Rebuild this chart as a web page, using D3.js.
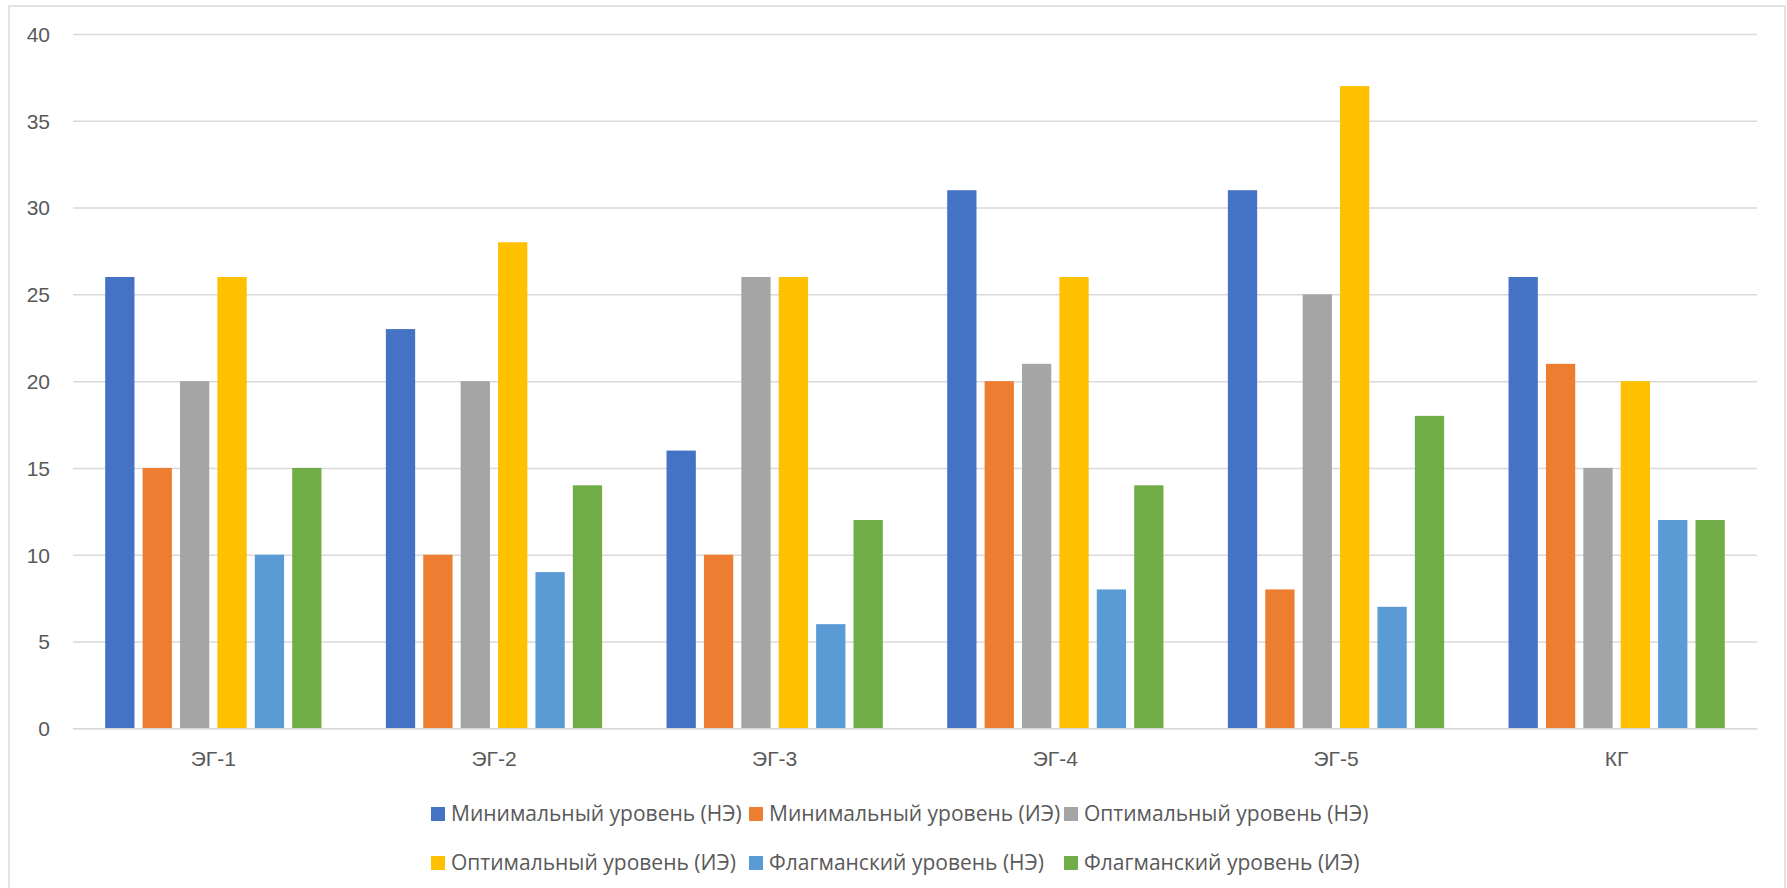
<!DOCTYPE html>
<html>
<head>
<meta charset="utf-8">
<script src="https://cdn.jsdelivr.net/npm/d3@7"></script>
<style>
  html, body { margin: 0; padding: 0; background: #fff; }
  svg { display: block; font-family: "Open Sans", "Noto Sans", sans-serif; }
</style>
</head>
<body>
<svg id="chart" width="1787" height="888"></svg>
<script>
// Groups along the x axis
const categories = ["ЭГ-1", "ЭГ-2", "ЭГ-3", "ЭГ-4", "ЭГ-5", "КГ"];

// Series names (legend order)
const seriesNames = [
  "Минимальный уровень (НЭ)",
  "Минимальный уровень (ИЭ)",
  "Оптимальный уровень (НЭ)",
  "Оптимальный уровень (ИЭ)",
  "Флагманский уровень (НЭ)",
  "Флагманский уровень (ИЭ)"
];

// Values per series, one entry per category
const minNE  = [26, 23, 16, 31, 31, 26];
const minIE  = [15, 10, 10, 20, 8, 21];
const optNE  = [20, 20, 26, 21, 25, 15];
const optIE  = [26, 28, 26, 26, 37, 20];
const flagNE = [10, 9, 6, 8, 7, 12];
const flagIE = [15, 14, 12, 14, 18, 12];

const yTicks = [0, 5, 10, 15, 20, 25, 30, 35, 40];

const seriesValues = [minNE, minIE, optNE, optIE, flagNE, flagIE];
const colors = ["#4472C4", "#ED7D31", "#A5A5A5", "#FFC000", "#5B9BD5", "#70AD47"];

const svg = d3.select("#chart");
const W = 1787, H = 888;

// Chart frame
svg.append("rect")
  .attr("x", 9).attr("y", 6)
  .attr("width", 1776).attr("height", 900)
  .attr("fill", "#fff")
  .attr("stroke", "#d9d9d9").attr("stroke-width", 1.5);

const plot = { left: 73, right: 1757, top: 34, bottom: 728.3 };

const x0 = d3.scaleBand()
  .domain(categories)
  .range([plot.left, plot.right])
  .paddingInner(0).paddingOuter(0);

const x1 = d3.scaleBand()
  .domain(d3.range(seriesNames.length))
  .range([32.2, x0.bandwidth() - 32.2])
  .paddingInner(0.217).paddingOuter(0);

const y = d3.scaleLinear()
  .domain([0, 40])
  .range([plot.bottom, plot.top]);

// Horizontal gridlines
const yAxis = d3.axisLeft(y)
  .tickValues(yTicks)
  .tickSize(-(plot.right - plot.left))
  .tickPadding(23)
  .tickFormat(d3.format("d"));

const gy = svg.append("g")
  .attr("transform", `translate(${plot.left},0)`)
  .call(yAxis);
gy.select(".domain").remove();
gy.selectAll(".tick line")
  .attr("stroke", "#d9d9d9").attr("stroke-width", 1.5);
gy.selectAll(".tick text")
  .attr("fill", "#595959")
  .attr("font-size", 21)
  .attr("dy", "0.35em");

// Bars
const groups = svg.append("g")
  .selectAll("g")
  .data(categories)
  .join("g")
  .attr("transform", c => `translate(${x0(c)},0)`);

groups.selectAll("rect")
  .data((c, ci) => seriesValues.map((vals, si) => ({ si, v: vals[ci] })))
  .join("rect")
  .attr("x", d => x1(d.si))
  .attr("width", x1.bandwidth())
  .attr("y", d => y(d.v))
  .attr("height", d => y(0) - y(d.v))
  .attr("fill", d => colors[d.si]);

// Category axis
const xAxis = d3.axisBottom(x0).tickSize(0).tickPadding(0);
const gx = svg.append("g")
  .attr("transform", `translate(0,${plot.bottom})`)
  .call(xAxis);
gx.select(".domain")
  .attr("stroke", "#d9d9d9").attr("stroke-width", 1.5);
gx.selectAll(".tick text")
  .attr("fill", "#595959")
  .attr("font-size", 21)
  .attr("dy", 0)
  .attr("y", 38);

// Legend: three columns, two rows
const legendCols = [431, 749, 1064];
const legendRows = [814, 863];
const legend = svg.append("g")
  .selectAll("g")
  .data(seriesNames)
  .join("g")
  .attr("transform", (d, i) => `translate(${legendCols[i % 3]},${legendRows[Math.floor(i / 3)]})`);

legend.append("rect")
  .attr("x", 0).attr("y", -7)
  .attr("width", 14).attr("height", 14)
  .attr("fill", (d, i) => colors[i]);

legend.append("text")
  .attr("x", 20).attr("y", 0)
  .attr("dy", "0.35em")
  .attr("fill", "#595959")
  .attr("font-size", 21)
  .text(d => d);
</script>
</body>
</html>
